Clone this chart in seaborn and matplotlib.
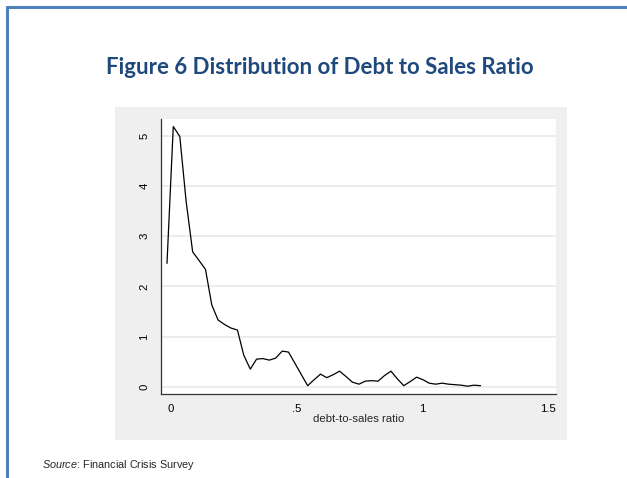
import matplotlib
matplotlib.use("Agg")
import matplotlib.pyplot as plt
import seaborn as sns
import pandas as pd
from matplotlib.patches import Rectangle
from matplotlib.lines import Line2D

# kernel density estimate
ratio = [-0.016, 0.009, 0.035, 0.060, 0.086, 0.111, 0.137, 0.162, 0.187, 0.213,
         0.238, 0.264, 0.289, 0.315, 0.340, 0.365, 0.391, 0.416, 0.442, 0.467,
         0.492, 0.518, 0.543, 0.569, 0.594, 0.619, 0.645, 0.670, 0.696, 0.721,
         0.747, 0.772, 0.797, 0.823, 0.848, 0.874, 0.899, 0.925, 0.950, 0.976,
         1.001, 1.026, 1.052, 1.077, 1.103, 1.128, 1.153, 1.179, 1.204, 1.230]
density = [2.46, 5.19, 4.99, 3.70, 2.69, 2.52, 2.34, 1.63, 1.33, 1.24,
           1.17, 1.13, 0.63, 0.35, 0.55, 0.56, 0.53, 0.57, 0.71, 0.69,
           0.47, 0.24, 0.02, 0.14, 0.25, 0.18, 0.24, 0.31, 0.20, 0.09,
           0.05, 0.11, 0.12, 0.11, 0.22, 0.31, 0.16, 0.02, 0.10, 0.19,
           0.14, 0.07, 0.05, 0.07, 0.05, 0.04, 0.03, 0.01, 0.03, 0.02]

x_ticks = [0, 0.5, 1, 1.5]
x_tick_labels = ["0", ".5", "1", "1.5"]
y_ticks = [0, 1, 2, 3, 4, 5]

df = pd.DataFrame({"ratio": ratio, "density": density})

sns.set_style("white")
plt.rcParams["font.family"] = ["Liberation Sans", "DejaVu Sans"]
plt.rcParams["mathtext.fontset"] = "custom"
plt.rcParams["mathtext.it"] = "Liberation Sans:italic"
plt.rcParams["mathtext.rm"] = "Liberation Sans"

W, H = 627, 478
fig = plt.figure(figsize=(W / 100, H / 100), dpi=100)

# page frame (blue lines top and left)
fig.add_artist(Line2D([7 / W, 7 / W], [0, 1 - 7 / H], color="#4F81BD", lw=2.2))
fig.add_artist(Line2D([7 / W, 1], [1 - 7 / H, 1 - 7 / H], color="#4F81BD", lw=2.2))

# grey graph region
fig.add_artist(Rectangle((115 / W, 1 - 440 / H), (567 - 115) / W, (440 - 107) / H,
                         facecolor="#EFEFEF", edgecolor="none", zorder=0))

fig.text(320 / W, 1 - 67 / H, "Figure 6 Distribution of Debt to Sales Ratio",
         ha="center", va="center", fontsize=16, fontweight="bold",
         color="#1F497D", family=["Lato", "DejaVu Sans"])

ax = fig.add_axes([160.7 / W, 1 - 394 / H, (556 - 160.7) / W, (394 - 119) / H])
ax.set_facecolor("white")

sns.lineplot(data=df, x="ratio", y="density", ax=ax, color="black", lw=0.9)

ax.set_xlim(-0.041, 1.530)
ax.set_ylim(-0.146, 5.34)
ax.set_xticks(x_ticks)
ax.set_xticklabels(x_tick_labels)
ax.set_yticks(y_ticks)
ax.set_yticklabels([str(v) for v in y_ticks], rotation=90, va="center")
ax.tick_params(axis="both", direction="out", length=4, width=0.8, colors="#333333",
               labelsize=8.2, labelcolor="black", pad=3)
ax.tick_params(axis="y", pad=4)

ax.grid(axis="y", color="#EAEAEA", lw=1.3)
ax.set_axisbelow(True)
for s in ["top", "right"]:
    ax.spines[s].set_visible(False)
for s in ["left", "bottom"]:
    ax.spines[s].set_color("#333333")
    ax.spines[s].set_linewidth(0.9)

ax.set_xlabel("debt-to-sales ratio", fontsize=8.2, labelpad=0)
ax.set_ylabel("")

fig.text(42 / W, 1 - 465 / H, r"$\it{Source}$: Financial Crisis Survey",
         fontsize=7.8, ha="left", va="center")

fig.savefig("out.png", dpi=100, facecolor="white")
